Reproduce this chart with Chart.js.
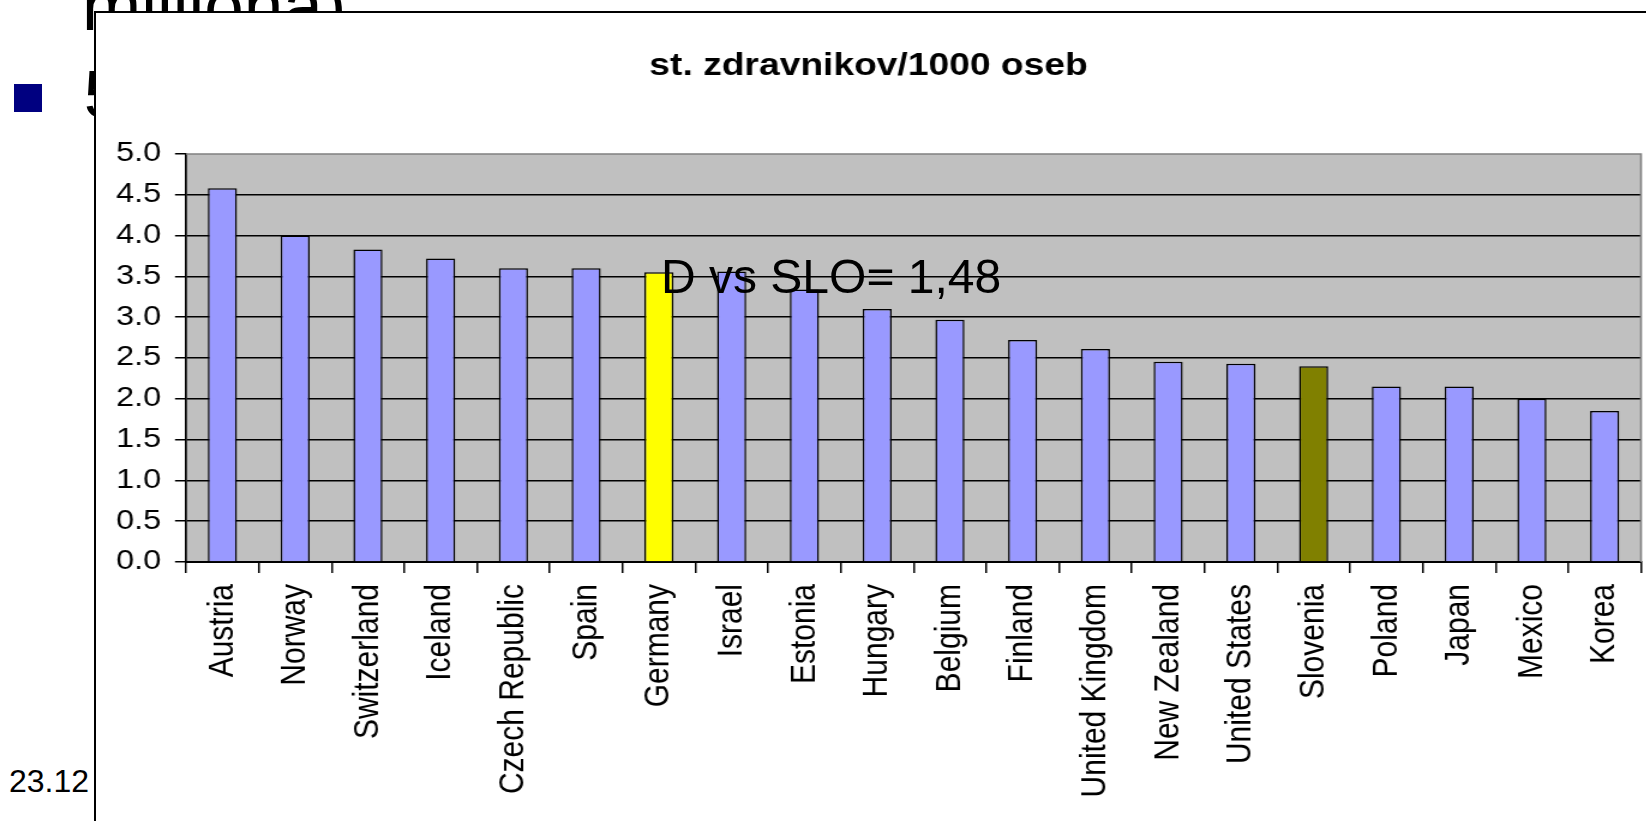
<!DOCTYPE html>
<html>
<head>
<meta charset="utf-8">
<script src="https://cdn.jsdelivr.net/npm/chart.js@4.4.1/dist/chart.umd.min.js"></script>
<style>
  body { margin: 0; width: 1646px; height: 821px; overflow: hidden; position: relative; background: #fff;
         font-family: 'Liberation Sans', Arial, sans-serif; color: #000; }
  .slide { position: absolute; line-height: 1; white-space: nowrap; }
  #bullet { position: absolute; left: 14px; top: 84px; width: 28px; height: 28px; background: #000080; }
  #box { position: absolute; left: 94px; top: 11px; width: 1600px; height: 900px; background: #fff;
         border-left: 2px solid #000; border-top: 2px solid #000; z-index: 1; overflow: hidden; }
  #wrap { position: absolute; left: 0; top: 0; width: 1305px; height: 808px;
          transform: scaleX(1.2); transform-origin: 0 0; }
  #note { position: absolute; left: 661px; top: 253px; font-size: 48px; line-height: 1; z-index: 2; white-space: nowrap; }
</style>
</head>
<body>
<div class="slide" style="left:82px; top:-30px; font-size:71px;">milijona)</div>
<div id="bullet"></div>
<div class="slide" style="left:84px; top:61px; font-size:66px;">5</div>
<div class="slide" style="left:9px; top:765px; font-size:32px;">23.12</div>

<div id="box"><div id="wrap"><canvas id="chart"></canvas></div></div>
<div id="note">D vs SLO= 1,48</div>

<script>
var chartTitle = 'st. zdravnikov/1000 oseb';

var countries = ['Austria', 'Norway', 'Switzerland', 'Iceland', 'Czech Republic', 'Spain', 'Germany',
  'Israel', 'Estonia', 'Hungary', 'Belgium', 'Finland', 'United Kingdom', 'New Zealand',
  'United States', 'Slovenia', 'Poland', 'Japan', 'Mexico', 'Korea'];

var doctorsPer1000 = [4.58, 4.0, 3.83, 3.72, 3.6, 3.6, 3.55, 3.56, 3.34, 3.1, 2.97, 2.72, 2.61, 2.455,
  2.43, 2.4, 2.15, 2.15, 2.0, 1.85];

var yMin = 0;
var yMax = 5;
var yStep = 0.5;

const FONT = "'Liberation Sans', Arial, sans-serif";

// Germany and Slovenia are picked out
const barColors = countries.map(function (c) {
  if (c === 'Germany') return '#FFFF00';
  if (c === 'Slovenia') return '#808000';
  return '#9999FF';
});

// grey plot area with a grey frame on top and right
const plotFrame = {
  id: 'plotFrame',
  beforeDraw(chart) {
    const { ctx, chartArea: a } = chart;
    ctx.save();
    ctx.fillStyle = '#C0C0C0';
    ctx.fillRect(a.left, a.top, a.right - a.left, a.bottom - a.top);
    ctx.restore();
  },
  afterDatasetsDraw(chart) {
    const { ctx, chartArea: a } = chart;
    ctx.save();
    ctx.strokeStyle = '#808080';
    ctx.lineWidth = 1.6;
    ctx.beginPath();
    ctx.moveTo(a.left, a.top);
    ctx.lineTo(a.right, a.top);
    ctx.lineTo(a.right, a.bottom);
    ctx.stroke();
    ctx.restore();
  },
};

const config = {
  type: 'bar',
  data: {
    labels: countries,
    datasets: [
      {
        data: doctorsPer1000,
        backgroundColor: barColors,
        borderColor: '#000',
        borderWidth: 1.5,
        borderSkipped: 'bottom',
        barPercentage: 0.4,
        categoryPercentage: 1,
      },
    ],
  },
  options: {
    responsive: true,
    maintainAspectRatio: false,
    animation: false,
    layout: { padding: { left: 0, right: 17.5, top: 0, bottom: 0 } },
    plugins: {
      legend: { display: false },
      tooltip: { enabled: false },
      title: {
        display: true,
        text: chartTitle,
        color: '#000',
        font: { family: FONT, size: 31, weight: 'bold', lineHeight: 1.2 },
        padding: { top: 34.7, bottom: 69.1 },
      },
    },
    scales: {
      x: {
        afterFit(scale) { scale.height = 259; },
        grid: {
          offset: true,
          drawOnChartArea: false,
          drawTicks: true,
          tickLength: 11,
          color: '#000',
          lineWidth: 1.5,
        },
        border: { color: '#000', width: 2 },
        ticks: {
          autoSkip: false,
          minRotation: 90,
          maxRotation: 90,
          padding: 11,
          color: '#000',
          font: { family: FONT, size: 30 },
        },
      },
      y: {
        min: yMin,
        max: yMax,
        afterFit(scale) { scale.width = 75; },
        grid: {
          color: function (ctx) {
            return ctx.tick && ctx.tick.value === yMax ? 'rgba(0,0,0,0)' : '#000';
          },
          tickColor: '#000',
          lineWidth: 1.5,
          tickLength: 9.2,
        },
        border: { color: '#000', width: 1.7 },
        ticks: {
          stepSize: yStep,
          padding: 11.5,
          color: '#000',
          font: { family: FONT, size: 27 },
          callback: function (v) { return Number(v).toFixed(1); },
        },
      },
    },
  },
  plugins: [plotFrame],
};

var myChart = new Chart(document.getElementById('chart'), config);
</script>
</body>
</html>
